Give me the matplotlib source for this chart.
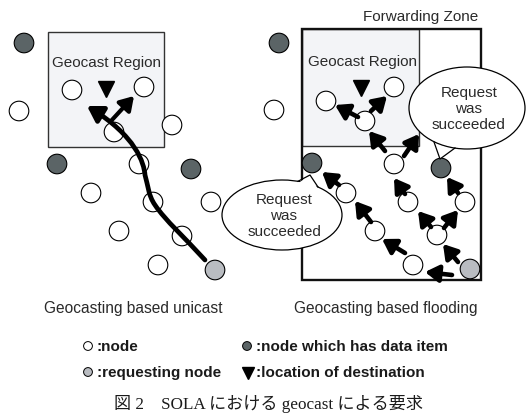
import matplotlib
matplotlib.use("Agg")
import matplotlib.pyplot as plt
from matplotlib.patches import Circle, Rectangle, Ellipse, Polygon, FancyArrowPatch
from matplotlib.path import Path

# -------------------- Data --------------------
# left panel: geocasting based unicast (pixel coordinates of the diagram)
left_plain = [(72, 90), (144, 87), (19, 111), (172, 125), (114, 132), (139, 164),
              (91, 193), (153, 202), (211, 202), (119, 231), (182, 236), (158, 265)]
left_holders = [(24, 43), (57, 164), (191, 169)]
left_requester = (215, 270)
left_dest = (106, 89)
left_region = (48, 32, 164, 147)
unicast_route = [(205, 260), (185, 238), (165, 220), (155, 205),
                 (148, 195), (148, 185), (145, 175),
                 (144, 163), (136, 136), (87, 106)]
unicast_branch = ((111, 121), (134, 96))

# right panel: geocasting based flooding
right_plain = [(274, 110), (326, 101), (394, 87), (365, 121), (394, 164), (346, 193),
               (408, 202), (465, 202), (375, 231), (437, 235), (413, 265)]
right_holders = [(279, 43), (312, 163), (441, 168)]
right_requester = (470, 269)
right_dest = (361, 88)
right_region = (302, 29, 419, 146)
forwarding_zone = (302, 29, 481, 280)
flood_arrows = [((452, 275), (425, 272)), ((405, 253), (382, 239)),
                ((371, 222), (355, 201)), ((339, 185), (322, 172)),
                ((458, 262), (443, 244)), ((431, 227), (418, 211)),
                ((444, 228), (458, 210)), ((458, 193), (447, 177)),
                ((405, 194), (394, 178)), ((385, 151), (369, 131)),
                ((404, 156), (419, 134)), ((358, 117), (335, 105)),
                ((371, 111), (387, 96))]

# speech bubbles: centre, width, height, tail (base1, tip, base2)
bubbles = [((282, 215), 120, 70, ((298, 181.3), (310, 175), (318, 187))),
           ((467, 108), 116, 82, ((434, 142), (440, 159), (455, 148)))]
bubble_text = "Request\nwas\nsucceeded"

subtitles = ["Geocasting based unicast", "Geocasting based flooding"]
legend_labels = [":node", ":node which has data item",
                 ":requesting node", ":location of destination"]
caption = "図 2\u3000SOLA における geocast による要求"

# -------------------- Style --------------------
PLAIN = "white"
HOLDER = "#5b6466"
REQUESTER = "#b9bcc1"
REGION = "#f3f4f7"
TEXT = "#2a2a2a"
R = 9.8
SANS = "Liberation Sans"


def node(ax, xy, color, r=R, lw=0.8):
    ax.add_patch(Circle(xy, r, facecolor=color, edgecolor="black", lw=lw, zorder=3))


def box(ax, rect, fill, lw, z, edge="#333333"):
    x0, y0, x1, y1 = rect
    ax.add_patch(Rectangle((x0, y0), x1 - x0, y1 - y0, facecolor=fill,
                           edgecolor=edge, lw=lw, zorder=z))


def arrow(ax, tail, head, lw=3.3, hw=0.5, hl=0.8):
    ax.add_patch(FancyArrowPatch(tail, head, arrowstyle=f"-|>,head_width={hw},head_length={hl}",
                                 mutation_scale=10, lw=lw, color="black",
                                 shrinkA=0, shrinkB=0, zorder=4))


def bubble(ax, centre, w, h, tail):
    ax.add_patch(Ellipse(centre, w, h, facecolor="white", edgecolor="black", lw=0.9, zorder=5))
    b1, tip, b2 = tail
    ax.add_patch(Polygon([(b1[0], b1[1] + 2), tip, (b2[0], b2[1] + 2)], closed=True,
                         facecolor="white", edgecolor="none", zorder=6))
    ax.plot([b1[0], tip[0], b2[0]], [b1[1], tip[1], b2[1]], color="black", lw=0.9, zorder=6)
    ax.text(centre[0] + 2, centre[1] + 1, bubble_text, ha="center", va="center", fontsize=11,
            family=SANS, linespacing=1.2, color=TEXT, zorder=7)


# -------------------- Main --------------------
def main():
    fig = plt.figure(figsize=(5.26, 4.17), dpi=100)
    ax = fig.add_axes([0, 0, 1, 1])
    ax.set_xlim(0, 526)
    ax.set_ylim(417, 0)
    ax.axis("off")

    # regions
    box(ax, left_region, REGION, 1.0, 1)
    box(ax, right_region, REGION, 1.0, 1)
    box(ax, forwarding_zone, "none", 1.7, 2, edge="#111111")
    ax.text(107, 63, "Geocast Region", ha="center", va="center", fontsize=11, family=SANS, color=TEXT)
    ax.text(362, 62, "Geocast Region", ha="center", va="center", fontsize=11, family=SANS, color=TEXT)
    ax.text(421, 17, "Forwarding Zone", ha="center", va="center", fontsize=11, family=SANS, color=TEXT)

    # nodes
    for xy in left_plain + right_plain:
        node(ax, xy, PLAIN)
    for xy in left_holders + right_holders:
        node(ax, xy, HOLDER)
    node(ax, left_requester, REQUESTER)
    node(ax, right_requester, REQUESTER)
    for d in (left_dest, right_dest):
        ax.plot(*d, marker="v", ms=12, color="black", zorder=4)

    # unicast route
    codes = [Path.MOVETO] + [Path.CURVE4] * (len(unicast_route) - 1)
    ax.add_patch(FancyArrowPatch(path=Path(unicast_route, codes),
                                 arrowstyle="-|>,head_width=0.55,head_length=0.9",
                                 mutation_scale=10, lw=3.4, color="black", zorder=4))
    arrow(ax, *unicast_branch, lw=3.0, hw=0.5, hl=0.8)

    # flooding arrows
    for tail, head in flood_arrows:
        arrow(ax, tail, head)

    for centre, w, h, tail in bubbles:
        bubble(ax, centre, w, h, tail)

    # captions
    ax.text(133, 309, subtitles[0], ha="center", va="center", fontsize=11.2, family=SANS, color=TEXT)
    ax.text(386, 309, subtitles[1], ha="center", va="center", fontsize=11.2, family=SANS, color=TEXT)

    # legend
    node(ax, (88, 346), PLAIN, r=4.4, lw=0.7)
    node(ax, (247, 346), HOLDER, r=4.4, lw=0.7)
    node(ax, (88, 372), REQUESTER, r=4.4, lw=0.7)
    ax.plot(248, 373, marker="v", ms=8, color="black")
    for (x, y), lab in zip([(97, 347), (256, 347), (97, 373), (256, 373)], legend_labels):
        ax.text(x, y, lab, ha="left", va="center", fontsize=11, family=SANS,
                fontweight="bold", color="#1a1a1a")

    ax.text(268, 404, caption, ha="center", va="center", fontsize=12.3,
            family=["Liberation Serif", "Noto Sans CJK JP"], color="#1a1a1a")

    fig.savefig("out.png", dpi=100)


if __name__ == "__main__":
    main()
